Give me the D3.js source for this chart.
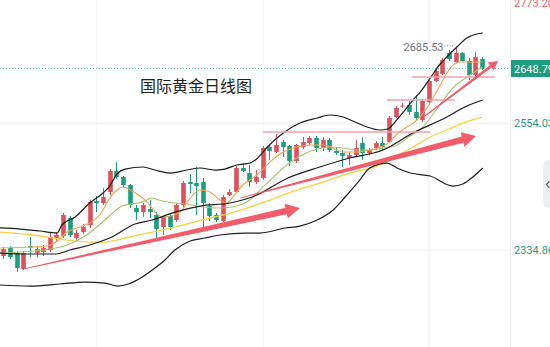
<!DOCTYPE html>
<html><head><meta charset="utf-8">
<script src="https://cdn.jsdelivr.net/npm/d3@7"></script>
<style>html,body{margin:0;padding:0;background:#fff;overflow:hidden}</style>
</head><body>
<svg id="c" width="550" height="347"></svg>
<script>
// ---- data ----
const opens = [2324.4,2338.3,2329.6,2301.9,2341.7,2329.6,2331.3,2334.8,2355.6,2359.0,
 2390.2,2355.6,2365.9,2378.1,2419.6,2416.1,2435.1,2471.5,2461.1,2447.3,
 2407.5,2400.5,2405.7,2395.4,2374.6,2393.6,2386.7,2412.7,2452.4,2450.7,
 2452.4,2410.9,2395.4,2385.0,2430.0,2435.1,2476.7,2468.0,2452.4,2459.4,
 2513.0,2504.3,2521.6,2514.7,2488.8,2513.0,2519.9,2528.6,2511.3,2525.1,
 2506.1,2502.6,2494.0,2499.2,2519.9,2502.6,2511.3,2519.9,2521.6,2564.9,
 2583.1,2585.7,2573.5,2559.7,2590.8,2627.2,2639.3,2675.6,2660.0,2675.6,
 2661.8,2637.6,2665.2];
const highs = [2340.0,2341.7,2333.1,2333.1,2357.3,2341.7,2343.5,2365.9,2365.9,2398.8,
 2393.6,2369.4,2379.8,2421.3,2428.2,2442.1,2474.9,2487.0,2462.8,2449.0,
 2412.7,2416.1,2421.3,2400.5,2393.6,2397.1,2416.1,2454.2,2466.3,2478.4,
 2459.4,2416.1,2398.8,2430.0,2440.3,2480.1,2485.3,2481.9,2473.2,2514.7,
 2516.5,2535.5,2525.1,2516.5,2518.2,2530.3,2532.0,2532.0,2530.3,2528.6,
 2513.0,2507.8,2504.3,2525.1,2530.3,2511.3,2523.4,2530.3,2566.6,2583.9,
 2589.1,2592.6,2603.0,2596.0,2628.9,2647.9,2667.0,2680.8,2685.53,2677.3,
 2667.0,2677.3,2668.7];
const lows = [2319.2,2319.2,2296.7,2300.2,2322.7,2322.7,2324.4,2331.3,2350.4,2355.6,
 2357.3,2348.6,2362.5,2372.9,2400.5,2412.7,2430.0,2457.6,2442.1,2407.5,
 2386.7,2391.9,2390.2,2355.6,2360.8,2369.4,2383.2,2409.2,2433.4,2395.4,
 2374.6,2385.0,2383.2,2383.2,2428.2,2433.4,2469.7,2443.8,2449.0,2455.9,
 2490.5,2502.6,2495.7,2480.1,2485.3,2509.5,2516.5,2504.3,2506.1,2504.3,
 2499.2,2478.4,2481.9,2495.7,2490.5,2499.2,2507.8,2507.8,2519.9,2563.2,
 2580.5,2568.4,2559.7,2556.2,2589.1,2625.4,2637.6,2661.8,2658.3,2660.0,
 2628.9,2634.1,2646.2];
const closes = [2336.5,2322.7,2303.7,2329.6,2339.1,2336.5,2338.3,2357.3,2360.8,2395.4,
 2360.8,2364.2,2374.6,2417.8,2416.1,2426.5,2471.5,2461.1,2447.3,2412.7,
 2400.5,2412.7,2400.5,2371.1,2391.9,2374.6,2412.7,2450.7,2449.0,2445.5,
 2416.1,2393.6,2386.7,2426.5,2435.1,2476.7,2471.5,2452.4,2461.1,2511.3,
 2506.1,2516.5,2513.0,2488.8,2516.5,2521.6,2528.6,2511.3,2525.1,2507.8,
 2502.6,2497.4,2499.2,2511.3,2502.6,2507.8,2519.9,2513.0,2563.2,2580.5,
 2584.8,2573.5,2563.2,2592.6,2627.2,2644.5,2663.5,2665.2,2675.6,2661.8,
 2637.6,2668.7,2648.79];

// indicator lines: [candle index, price]
const bollUpper = [[-0.5,2373],[2.5,2371.1],[5.5,2367.7],[8.1,2364.2],[8.8,2378.1],[10.8,2391.9],[13.0,2416.1],
 [15.0,2433.4],[16.0,2445.5],[17.1,2466.3],[18.3,2474.9],[21.0,2478.4],[22.8,2473.2],[25.1,2468.0],[27.6,2473.2],
 [29.6,2476.7],[31.8,2473.2],[33.3,2474.9],[35.1,2481.9],[37.1,2485.3],[38.1,2492.2],[39.7,2513.0],[42.1,2537.2],
 [44.6,2554.5],[47.2,2563.2],[49.1,2568.4],[51.1,2564.9],[52.9,2556.2],[54.7,2547.6],[56.6,2542.4],[57.8,2544.1],
 [58.9,2556.2],[60.4,2577.0],[61.6,2594.3],[62.7,2608.1],[64.2,2632.4],[65.7,2656.6],[66.7,2668.7],[68.2,2686.0],
 [69.7,2701.5],[71.2,2708.5],[72.1,2710.2]];
const bollMid = [[-0.5,2329.6],[4.0,2327.9],[7.8,2327.9],[10.0,2334.8],[13.0,2343.5],[16.0,2355.6],[19.8,2379.8],
 [22.4,2386.7],[25.8,2400.5],[29.6,2410.9],[34.1,2416.1],[37.8,2428.2],[42.8,2459.4],[47.6,2478.4],[52.1,2494.0],
 [57.1,2507.8],[61.6,2537.2],[66.7,2564.9],[69.4,2582.2],[72.1,2594.3]];
const bollLower = [[-0.5,2274.3],[4.0,2272.5],[8.5,2276.0],[12.3,2279.4],[15.3,2277.7],[17.2,2272.5],[18.8,2276.0],
 [20.9,2288.1],[22.4,2300.2],[24.3,2317.5],[25.8,2334.8],[28.1,2350.4],[30.3,2355.6],[32.6,2360.8],[36.3,2364.2],
 [38.6,2364.2],[42.4,2372.9],[44.6,2376.3],[47.2,2386.7],[49.6,2404.0],[51.4,2426.5],[53.6,2455.9],[55.1,2476.7],
 [57.7,2485.3],[59.2,2476.7],[61.2,2468.0],[64.2,2462.8],[67.6,2445.5],[69.1,2449.0],[70.6,2461.1],[72.1,2476.7]];
const ma5 = [[-0.5,2338.3],[4.5,2340.0],[6.6,2341.7],[8.1,2350.4],[9.6,2365.9],[11.5,2374.6],[13.0,2381.5],
 [14.5,2395.4],[16.0,2424.7],[17.1,2438.6],[18.0,2443.8],[19.1,2438.6],[20.3,2430.0],[21.8,2416.1],[22.8,2400.5],
 [23.9,2391.9],[25.1,2393.6],[26.6,2400.5],[28.1,2424.7],[29.6,2438.6],[31.1,2435.1],[32.6,2421.3],[33.6,2416.1],
 [34.5,2426.5],[36.0,2447.3],[37.5,2459.4],[38.6,2469.7],[40.1,2487.0],[42.1,2504.3],[44.2,2513.0],[46.1,2516.5],
 [48.1,2516.5],[49.6,2511.3],[51.1,2504.3],[53.2,2504.3],[55.1,2507.8],[57.1,2514.7],[58.1,2521.6],[59.2,2535.5],
 [60.7,2547.6],[62.2,2559.7],[63.7,2580.5],[65.7,2620.3],[67.2,2649.7],[68.7,2660.0],[70.2,2660.0],[72.0,2660.0]];
const ma10 = [[-0.5,2329.6],[6.0,2334.8],[9.6,2343.5],[12.3,2359.0],[14.2,2376.3],[16.3,2397.1],[17.8,2410.9],
 [20.9,2417.8],[22.4,2424.7],[23.9,2419.6],[25.8,2416.1],[27.6,2414.4],[30.0,2409.2],[32.6,2407.5],[35.1,2410.9],
 [37.1,2421.3],[38.6,2438.6],[39.7,2450.7],[42.1,2476.7],[44.6,2497.4],[47.2,2509.5],[49.1,2513.0],[51.1,2511.3],
 [53.2,2507.8],[55.1,2507.8],[57.1,2511.3],[58.9,2514.7],[60.7,2528.6],[63.1,2547.6],[65.2,2578.7],[67.6,2615.1],
 [70.2,2637.6],[72.0,2651.4]];
const ma20 = [[-0.5,2365.9],[4.5,2360.8],[9.6,2352.1],[13.0,2348.6],[15.3,2348.6],[18.3,2355.6],[22.4,2365.9],
 [25.8,2374.6],[28.1,2381.5],[31.1,2390.2],[34.1,2398.8],[37.1,2409.2],[40.1,2421.3],[42.8,2433.4],[47.6,2450.7],
 [52.1,2468.0],[57.1,2483.6],[59.7,2500.9],[61.6,2513.0],[64.2,2530.3],[66.7,2542.4],[69.1,2554.5],[72.0,2564.9]];

const axisTicks = [2773.20, 2554.03, 2334.86];
const lastPrice = 2648.79;
const highMark = {index: 68, value: 2685.53};
const gridIndices = [14.1, 39.05, 64.0];
const chartTitle = "国际黄金日线图";
// trend arrows: start [index, price] -> tip [index, price]
const trendArrows = [
  {from: [2.96, 2301.9], to: [44.6, 2407.5]},
  {from: [35.6, 2424.7], to: [71.1, 2532.0]},
  {from: [63.4, 2566.6], to: [74.4, 2661.8]}
];
// support / resistance: [startIndex, endIndex, price]
const levelLines = [[39.05, 64.2, 2538.9], [57.7, 67.9, 2594.3], [61.5, 73.9, 2634.1]];

// ---- drawing ----
const W = 550, H = 347, plotRight = 510;
const svg = d3.select('#c');
const x = d3.scaleLinear().domain([0, 72]).range([3.3, 482.1]);
const y = d3.scaleLinear().domain([2334.86, 2554.03]).range([250, 123.3]);
const fmt = d3.format('.2f');

svg.append('defs').append('clipPath').attr('id','plot')
  .append('rect').attr('x',0).attr('y',0).attr('width',plotRight).attr('height',H);
const g = svg.append('g').attr('clip-path','url(#plot)');

// grid
g.selectAll('.hg').data(axisTicks).enter().append('line')
  .attr('x1',0).attr('x2',plotRight).attr('y1',d=>y(d)).attr('y2',d=>y(d))
  .attr('stroke','#f0f1f3').attr('stroke-width',1);
g.selectAll('.vg').data(gridIndices).enter().append('line')
  .attr('x1',d=>x(d)).attr('x2',d=>x(d)).attr('y1',0).attr('y2',H)
  .attr('stroke','#f0f1f3').attr('stroke-width',1);

// last price dotted
g.append('line').attr('x1',0).attr('x2',plotRight).attr('y1',y(lastPrice)).attr('y2',y(lastPrice))
  .attr('stroke','#5cc8b0').attr('stroke-width',1).attr('stroke-dasharray','1,2');

// candles
const UP = '#e0505c', DOWN = '#1a9f7e';
const bw = 4.6;
const candles = g.append('g');
opens.forEach((o,i)=>{
  const c = closes[i], col = c >= o ? UP : DOWN;
  const cx = Math.round(x(i)) + 0.5;
  candles.append('line').attr('x1',cx).attr('x2',cx).attr('y1',y(highs[i])).attr('y2',y(lows[i]))
    .attr('stroke',col).attr('stroke-width',1);
  const top = y(Math.max(o,c)), bot = y(Math.min(o,c));
  candles.append('rect').attr('x',cx-bw/2).attr('width',bw)
    .attr('y',top).attr('height',Math.max(1,bot-top)).attr('fill',col);
});

// indicator lines
const line = d3.line().x(d=>x(d[0])).y(d=>y(d[1])).curve(d3.curveMonotoneX);
const lines = [
  [ma20, '#fbd13f', 1.3],
  [ma10, '#a9c46a', 1.1],
  [ma5,  '#f7a24f', 1.1],
  [bollLower, '#1e1e1e', 1.2],
  [bollMid, '#1e1e1e', 1.2],
  [bollUpper, '#1e1e1e', 1.2]
];
lines.forEach(([d,c,w])=>{
  g.append('path').attr('d',line(d)).attr('fill','none').attr('stroke',c).attr('stroke-width',w);
});

// level lines
g.selectAll('.lv').data(levelLines).enter().append('line')
  .attr('x1',d=>x(d[0])).attr('x2',d=>x(d[1])).attr('y1',d=>y(d[2])).attr('y2',d=>y(d[2]))
  .attr('stroke','#f7a0a8').attr('stroke-width',1.4);

// arrows
const arrowStyles = [
  {w0:0.8, w1:6.5, hl:14, hw:15},
  {w0:0.8, w1:6.5, hl:14, hw:15},
  {w0:1.2, w1:3, hl:9, hw:10}
];
trendArrows.forEach((a,k)=>{
  const s = arrowStyles[k];
  const x0=x(a.from[0]), y0=y(a.from[1]), x1=x(a.to[0]), y1=y(a.to[1]);
  const dx=x1-x0, dy=y1-y0, L=Math.hypot(dx,dy);
  const ux=dx/L, uy=dy/L, nx=-uy, ny=ux;
  const bx=x1-ux*s.hl, by=y1-uy*s.hl;
  const pts=[[x0+nx*s.w0/2,y0+ny*s.w0/2],[bx+nx*s.w1/2,by+ny*s.w1/2],[bx+nx*s.hw/2,by+ny*s.hw/2],[x1,y1],
    [bx-nx*s.hw/2,by-ny*s.hw/2],[bx-nx*s.w1/2,by-ny*s.w1/2],[x0-nx*s.w0/2,y0-ny*s.w0/2]];
  g.append('path').attr('d',d3.line()(pts)+'Z').attr('fill','#f24e5e').attr('opacity',0.92);
});

// high label
const hx = x(highMark.index), hy = y(highMark.value);
g.append('line').attr('x1',hx-11).attr('x2',hx-1).attr('y1',hy-1.5).attr('y2',hy-1.5)
  .attr('stroke','#8a8f99').attr('stroke-width',1).attr('stroke-dasharray','1,1.5');
g.append('text').attr('x',hx-12).attr('y',hy+3.5).attr('text-anchor','end')
  .attr('font-family','Roboto, sans-serif').attr('font-size',11).attr('fill','#70757e')
  .text(fmt(highMark.value));

// title
svg.append('text').attr('x',140).attr('y',92)
  .attr('font-family','"Noto Sans CJK SC", sans-serif').attr('font-size',16).attr('fill','#222')
  .text(chartTitle);

// right axis
svg.append('line').attr('x1',plotRight+0.5).attr('x2',plotRight+0.5).attr('y1',0).attr('y2',H)
  .attr('stroke','#eceef1');
const ax = svg.append('g');
axisTicks.forEach((v,k)=>{
  const ty = Math.max(y(v)+4, 7);
  ax.append('text').attr('x',514).attr('y',ty)
    .attr('font-family','Roboto, sans-serif').attr('font-size',11)
    .attr('fill', k===0 ? '#e5646c' : '#26a07f').text(fmt(v));
});
ax.append('rect').attr('x',511).attr('y',y(lastPrice)-8.5).attr('width',40).attr('height',17)
  .attr('fill','#1e9e7d');
ax.append('text').attr('x',514).attr('y',y(lastPrice)+4)
  .attr('font-family','Roboto, sans-serif').attr('font-size',11).attr('fill','#fff').text(fmt(lastPrice));

// collapse button
svg.append('rect').attr('x',543).attr('y',160).attr('width',20).attr('height',48).attr('rx',6)
  .attr('fill','#eceef2');
svg.append('path').attr('d','M549.5,181 L546.5,184.5 L549.5,188').attr('fill','none')
  .attr('stroke','#6b7079').attr('stroke-width',1.3);
</script>
</body></html>
